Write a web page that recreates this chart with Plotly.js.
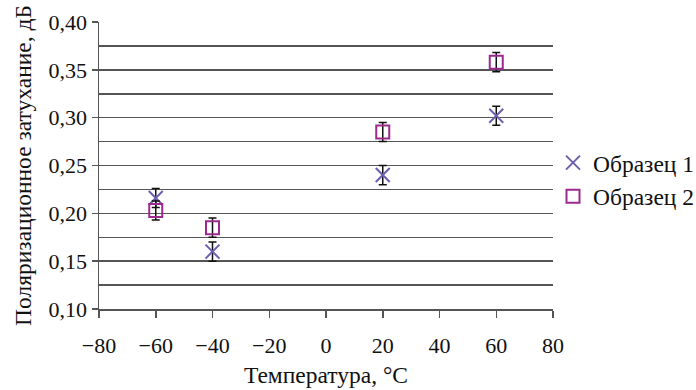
<!DOCTYPE html>
<html><head><meta charset="utf-8">
<script src="https://cdn.plot.ly/plotly-3.0.1.min.js"></script>
<style>body{margin:0;background:#fff}#c{width:696px;height:390px}</style>
</head><body><div id="c"></div>
<script>
const temps = [-60, -40, 20, 60];
const sample1 = [0.216, 0.160, 0.240, 0.302];
const sample2 = [0.203, 0.185, 0.285, 0.358];
const err1 = [0.01, 0.01, 0.01, 0.01];
const err2 = [0.01, 0.01, 0.01, 0.01];
const seriesNames = ['Образец 1', 'Образец 2'];
const xTitle = 'Температура, °C';
const yTitle = 'Поляризационное затухание, дБ';

const fam = '"Liberation Serif", "Times New Roman", serif';
const tickFont = {family: fam, size: 22, color: '#111'};
const titleFont = {family: fam, size: 23.5, color: '#111'};
const traces = [
  {x: temps, y: sample1, name: seriesNames[0], mode: 'markers', type: 'scatter',
   marker: {symbol: 'x-thin-open', size: 14, line: {width: 2, color: '#6a5fb0'}, color: '#6a5fb0'},
   error_y: {type: 'data', array: err1, visible: true, color: '#111', thickness: 1.5, width: 4}},
  {x: temps, y: sample2, name: seriesNames[1], mode: 'markers', type: 'scatter',
   marker: {symbol: 'square-open', size: 13, line: {width: 2, color: '#9c2a8e'}, color: '#9c2a8e'},
   error_y: {type: 'data', array: err2, visible: true, color: '#111', thickness: 1.5, width: 4}}
];
const layout = {
  width: 696, height: 390,
  margin: {l: 98.5, r: 143, t: 22, b: 81, autoexpand: false},
  paper_bgcolor: '#fff', plot_bgcolor: '#fff',
  separators: ', ',
  font: tickFont,
  showlegend: true,
  legend: {x: 1.0, xanchor: 'left', y: 0.45, yanchor: 'middle', font: titleFont, tracegroupgap: 0, itemwidth: 30, bgcolor: 'rgba(0,0,0,0)'},
  xaxis: {range: [-80, 80], dtick: 20, tick0: -80, showgrid: false, zeroline: false,
    showline: true, linecolor: '#555', linewidth: 1.5, ticks: 'outside', ticklen: 7, tickcolor: '#555', tickwidth: 1.5,
    ticklabelstandoff: 9,
    tickfont: tickFont, title: {text: xTitle, font: titleFont, standoff: 9}},
  yaxis: {range: [0.10, 0.40], dtick: 0.05, tick0: 0.10, tickformat: '.2f', showgrid: true,
    gridcolor: '#555', gridwidth: 1.5, zeroline: false,
    showline: true, linecolor: '#555', linewidth: 1.5, ticks: 'outside', ticklen: 6, tickcolor: '#555', tickwidth: 1.5,
    minor: {dtick: 0.025, tick0: 0.10, showgrid: true, gridcolor: '#555', gridwidth: 1.5, ticks: ''},
    tickfont: tickFont, title: {text: yTitle, font: titleFont, standoff: 10}}
};
Plotly.newPlot('c', traces, layout, {displayModeBar: false, staticPlot: true});
</script></body></html>
